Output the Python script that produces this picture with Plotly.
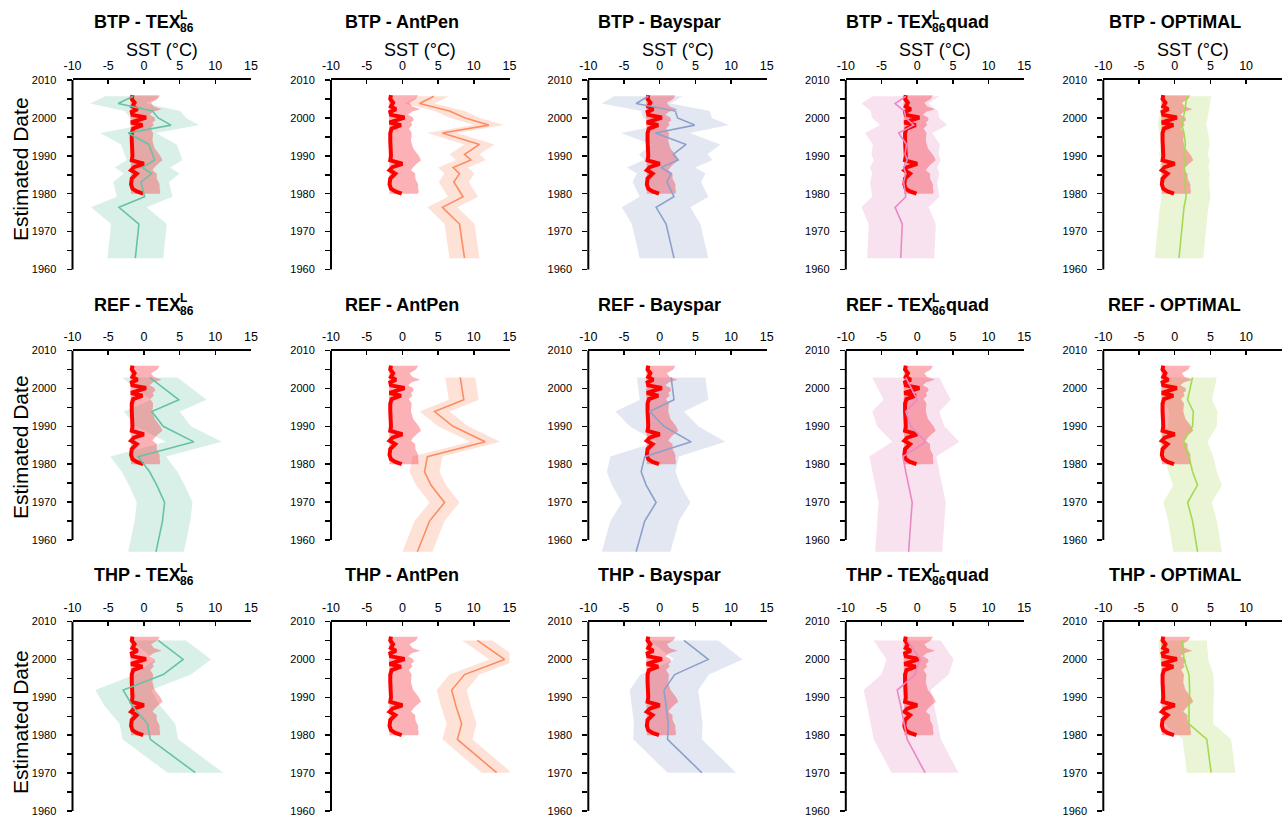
import plotly.graph_objects as go

W, H = 1282, 823
FONT = "Arial, 'Liberation Sans', Helvetica, sans-serif"

sites = ["BTP", "REF", "THP"]
calibrations = ["TEX86", "AntPen", "Bayspar", "TEX86quad", "OPTiMAL"]

# ---- sample ages (estimated date) per site ----
btp_year = [2005.7, 2003.8, 2001.8, 2000.0, 1998.1, 1996.0, 1993.0, 1990.4,
            1988.9, 1986.9, 1985.3, 1983.1, 1979.2, 1976.4, 1972.0, 1963.0]
ref_year = [2002.9, 1997.0, 1993.9, 1990.0, 1985.9, 1982.0, 1978.0, 1974.5,
            1969.9, 1965.0, 1956.9]
thp_year = [2005.0, 2000.0, 1996.0, 1991.9, 1987.7, 1983.0, 1978.9, 1970.1]

# ---- reconstructed SST (°C) ----
btp_tex86 = [-1.5, -3.6, 1.2, 2.0, 3.8, -2.2, 0.7, 1.2, 1.5, -0.2, 1.1, -0.4, 0.1, -3.5, -0.7, -1.2]
btp_antpen = [4.4, 2.4, 6.6, 8.8, 12.1, 5.6, 10.8, 8.7, 9.6, 7.1, 8.0, 7.2, 8.5, 5.6, 8.0, 8.7]
btp_bayspar = [-1.6, -3.3, 2.2, 2.5, 4.9, -0.6, 3.7, 1.9, 2.6, 0.2, 1.6, 1.0, 2.0, -0.5, 0.9, 2.0]
btp_tex86quad = [-1.6, -3.1, -1.8, -1.6, -0.5, -2.6, -1.5, -1.7, -1.4, -1.9, -1.6, -1.9, -1.6, -3.1, -2.1, -2.3]
btp_optimal = [1.7, 1.6, 1.4, 1.2, 1.0, 1.3, 1.5, 1.2, 1.5, 1.3, 1.5, 1.4, 1.6, 1.3, 1.1, 0.6]

ref_tex86 = [0.8, 4.9, 1.1, 2.7, 7.0, -0.8, 0.8, 1.8, 2.9, 2.6, 1.7]
ref_antpen = [8.1, 8.6, 4.5, 7.1, 11.6, 3.5, 3.1, 4.0, 5.9, 3.8, 2.1]
ref_bayspar = [1.6, 2.0, -1.4, 0.6, 4.4, -2.1, -2.6, -1.9, -0.5, -2.1, -3.3]
ref_tex86quad = [-1.6, 0.0, -1.6, -0.9, 1.2, -2.0, -1.6, -1.2, -0.7, -0.9, -1.2]
ref_optimal = [2.5, 1.8, 2.6, 2.5, 1.2, 2.0, 2.5, 3.2, 1.8, 2.5, 3.2]

thp_tex86 = [2.0, 5.5, 2.7, -2.9, -1.6, 0.5, 0.9, 7.2]
thp_antpen = [10.5, 14.3, 8.7, 6.9, 7.5, 8.3, 7.7, 13.2]
thp_bayspar = [3.4, 6.8, 2.1, 0.6, 0.9, 1.2, 1.1, 5.9]
thp_tex86quad = [-1.4, 0.4, -0.3, -2.8, -2.3, -1.8, -1.4, 1.1]
thp_optimal = [1.1, 1.3, 2.0, 2.1, 2.0, 2.0, 4.5, 5.1]

# calibration uncertainty (half-width of shaded band, °C)
calibration_error = [3.9, 2.1, 4.8, 4.7, 3.4]

# ---- observed SST (red) ----
obs_year = [1980.0, 1980.6, 1981.3, 1982.5, 1984.0, 1985.3, 1986.2, 1987.0, 1987.9,
            1988.8, 1990.0, 1992.0, 1994.0, 1996.0, 1997.2, 1998.1, 1998.8, 1999.4,
            2000.1, 2000.8, 2001.6, 2002.3, 2003.0, 2004.0, 2005.0, 2006.0]
obs_sst = [-0.1, -1.0, -1.6, -1.8, -1.7, -1.0, -1.8, -1.4, 0.0,
           -1.7, -1.6, -1.7, -1.7, -1.7, -1.5, -0.2, -1.8, -0.8,
           0.3, -1.6, -1.7, -0.9, -1.6, -1.3, -1.7, -1.6]
obs_min = [-1.8, -1.8, -1.9, -1.9, -1.9, -1.9, -1.9, -1.9, -1.9,
           -1.9, -1.9, -1.9, -1.9, -1.9, -1.9, -1.9, -1.9, -1.9,
           -1.9, -1.9, -1.9, -1.9, -1.9, -1.9, -1.9, -1.8]
obs_max = [2.2, 2.3, 2.2, 2.2, 1.8, 1.8, 1.2, 1.5, 2.0,
           2.6, 2.3, 1.5, 1.2, 1.3, 0.9, 1.4, 1.2, 1.6,
           1.5, 0.8, 1.3, 2.5, 1.4, 1.0, 1.9, 2.2]

x_ticks = [-10, -5, 0, 5, 10, 15]

site_years = {"BTP": btp_year, "REF": ref_year, "THP": thp_year}
proxy = {
    "BTP": [btp_tex86, btp_antpen, btp_bayspar, btp_tex86quad, btp_optimal],
    "REF": [ref_tex86, ref_antpen, ref_bayspar, ref_tex86quad, ref_optimal],
    "THP": [thp_tex86, thp_antpen, thp_bayspar, thp_tex86quad, thp_optimal],
}

line_colors = ["#66c2a5", "#fc8d62", "#8da0cb", "#e78ac3", "#a6d854"]
band_colors = ["rgba(102,194,165,0.25)", "rgba(252,141,98,0.25)", "rgba(141,160,203,0.25)",
               "rgba(231,138,195,0.25)", "rgba(166,216,84,0.25)"]
obs_band_color = "rgba(245,60,70,0.40)"
obs_line_color = "#ff0000"

# ---- layout geometry (pixels) ----
col_left = [72.5, 331.0, 588.3, 845.8, 1103.3]
px_per_deg = 7.14
row_top = [80.0, 350.5, 621.5]
px_per_year = 3.79
y_lowest = 1956.3
title_y = [22, 305, 575]
ylabel_y = [169, 447, 722]

fig = go.Figure()
annotations = []
shapes = []

def yp(px):
    return 1 - px / H

for r, site in enumerate(sites):
    yrs = site_years[site]
    top = row_top[r]
    bottom = min(top + (2010 - y_lowest) * px_per_year, H - 0.5)
    y_range = [2010 - (bottom - top) / px_per_year, 2010]
    for c, cal in enumerate(calibrations):
        n = r * 5 + c + 1
        xs = "x" if n == 1 else f"x{n}"
        ys = "y" if n == 1 else f"y{n}"
        vals = proxy[site][c]
        err = calibration_error[c]
        lo = [v - err for v in vals]
        hi = [v + err for v in vals]
        # proxy uncertainty band
        fig.add_trace(go.Scatter(x=hi + lo[::-1], y=yrs + yrs[::-1], fill="toself",
                                 fillcolor=band_colors[c], line=dict(width=0),
                                 mode="lines", hoverinfo="skip", showlegend=False,
                                 xaxis=xs, yaxis=ys))
        # observed band
        fig.add_trace(go.Scatter(x=obs_max + obs_min[::-1], y=obs_year + obs_year[::-1],
                                 fill="toself", fillcolor=obs_band_color, line=dict(width=0),
                                 mode="lines", hoverinfo="skip", showlegend=False,
                                 xaxis=xs, yaxis=ys))
        # observed line
        fig.add_trace(go.Scatter(x=obs_sst, y=obs_year, mode="lines",
                                 line=dict(color=obs_line_color, width=4),
                                 showlegend=False, xaxis=xs, yaxis=ys))
        # proxy line
        fig.add_trace(go.Scatter(x=vals, y=yrs, mode="lines",
                                 line=dict(color=line_colors[c], width=1.6),
                                 showlegend=False, xaxis=xs, yaxis=ys))

        left = col_left[c] / W
        right = min((col_left[c] + 25 * px_per_deg) / W, 1.0)
        tv = x_ticks if c < 4 else x_ticks[:-1]
        xa = dict(domain=[left, right], range=[-10, 15], anchor=ys, side="top",
                  automargin=False,
                  showline=True, linecolor="black", linewidth=2,
                  ticks="inside", ticklen=4, tickwidth=1.5, tickcolor="black",
                  tickmode="array", tickvals=tv, ticktext=[str(t) for t in tv],
                  ticklabelstandoff=3,
                  tickfont=dict(family=FONT, size=12.5, color="black"),
                  showgrid=False, zeroline=False, fixedrange=True)
        ya = dict(domain=[max(yp(bottom), 0), yp(top)], range=y_range, anchor=xs,
                  automargin=False,
                  showline=False, ticks="outside", ticklen=5, tickwidth=1.5,
                  tickcolor="black", tickmode="linear", tick0=1960, dtick=10,
                  minor=dict(ticks="outside", ticklen=5, tickwidth=1.5,
                             tickcolor="black", dtick=5, tick0=1960, showgrid=False),
                  ticklabelstandoff=8,
                  tickfont=dict(family=FONT, size=11, color="black"),
                  showgrid=False, zeroline=False, fixedrange=True)
        fig.layout["xaxis" if n == 1 else f"xaxis{n}"] = xa
        fig.layout["yaxis" if n == 1 else f"yaxis{n}"] = ya

        # y axis line from 1960 to 2010
        shapes.append(dict(type="line", xref=f"{xs} domain", yref=ys, x0=0, x1=0,
                           y0=1960, y1=2010, line=dict(color="black", width=2)))

        # titles
        ty = yp(title_y[r])
        tfont = dict(family=FONT, size=18, color="black")
        sfont = dict(family=FONT, size=12, color="black")
        if cal in ("TEX86", "TEX86quad"):
            main_w = 86
            sub_w = 14
            quad_w = 43 if cal == "TEX86quad" else 0
            total = main_w + sub_w + quad_w
            split = -total / 2 + main_w
            annotations.append(dict(text=f"<b>{site} - TEX</b>", x=0, xref=xs, y=ty, yref="paper",
                                    xanchor="right", yanchor="middle", xshift=split + 3,
                                    showarrow=False, font=tfont))
            annotations.append(dict(text="<b>L</b>", x=0, xref=xs, y=ty, yref="paper",
                                    xanchor="left", yanchor="middle", xshift=split - 2, yshift=7,
                                    showarrow=False, font=sfont))
            annotations.append(dict(text="<b>86</b>", x=0, xref=xs, y=ty, yref="paper",
                                    xanchor="left", yanchor="middle", xshift=split - 2, yshift=-6,
                                    showarrow=False, font=sfont))
            if quad_w:
                annotations.append(dict(text="<b>quad</b>", x=0, xref=xs, y=ty, yref="paper",
                                        xanchor="left", yanchor="middle", xshift=split + sub_w - 2,
                                        showarrow=False, font=tfont))
        else:
            annotations.append(dict(text=f"<b>{site} - {cal}</b>", x=0, xref=xs, y=ty,
                                    yref="paper", xanchor="center", yanchor="middle",
                                    showarrow=False, font=tfont))
        if r == 0:
            annotations.append(dict(text="SST (°C)", x=2.5, xref=xs, y=yp(50), yref="paper",
                                    xanchor="center", yanchor="middle", showarrow=False,
                                    font=dict(family=FONT, size=18, color="black")))
    annotations.append(dict(text="Estimated Date", x=20 / W, xref="paper", y=yp(ylabel_y[r]),
                            yref="paper", xanchor="center", yanchor="middle", textangle=-90,
                            showarrow=False, font=dict(family=FONT, size=21, color="black")))

fig.update_layout(width=W, height=H, margin=dict(l=0, r=0, t=0, b=0, autoexpand=False),
                  paper_bgcolor="white", plot_bgcolor="white",
                  annotations=annotations, shapes=shapes, showlegend=False)

fig.write_html("out.html", config={"displayModeBar": False, "staticPlot": True},
               post_script="document.body.style.margin='0';document.body.style.overflow='hidden';")
